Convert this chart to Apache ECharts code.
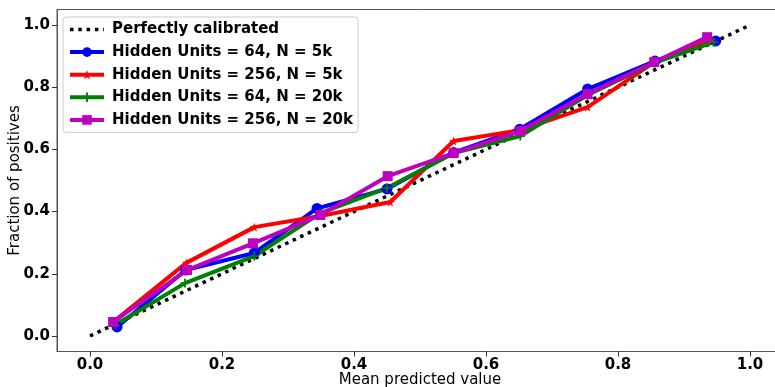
<!DOCTYPE html>
<html><head><meta charset="utf-8">
<script src="https://cdn.jsdelivr.net/npm/echarts@6/dist/echarts.min.js"></script>
<style>html,body{margin:0;padding:0;background:#fff}#c{width:775px;height:387px}</style>
</head><body><div id="c"></div>
<script>
const tickValues = [0, 0.2, 0.4, 0.6, 0.8, 1.0];
const perfectX = [0, 1];
const perfectY = [0, 1];
const s64_5kX  = [0.041, 0.145, 0.249, 0.344, 0.450, 0.551, 0.651, 0.754, 0.856, 0.948];
const s64_5kY  = [0.029, 0.212, 0.267, 0.410, 0.473, 0.590, 0.665, 0.794, 0.884, 0.949];
const s256_5kX = [0.035, 0.146, 0.249, 0.349, 0.455, 0.551, 0.652, 0.754, 0.855, 0.942];
const s256_5kY = [0.045, 0.235, 0.350, 0.386, 0.431, 0.627, 0.662, 0.736, 0.881, 0.952];
const s64_20kX = [0.038, 0.144, 0.249, 0.349, 0.450, 0.551, 0.652, 0.754, 0.855, 0.945];
const s64_20kY = [0.035, 0.170, 0.257, 0.395, 0.476, 0.588, 0.643, 0.775, 0.878, 0.945];
const s256_20kX = [0.035, 0.147, 0.247, 0.349, 0.451, 0.551, 0.652, 0.754, 0.855, 0.935];
const s256_20kY = [0.045, 0.212, 0.298, 0.389, 0.514, 0.588, 0.659, 0.778, 0.881, 0.961];
const names = ['Perfectly calibrated', 'Hidden Units = 64, N = 5k', 'Hidden Units = 256, N = 5k', 'Hidden Units = 64, N = 20k', 'Hidden Units = 256, N = 20k'];

const zip = (xs, ys) => xs.map((x, i) => [x, ys[i]]);
const STAR = 'path://M50,0 L61,35 L98,35 L68,57 L79,91 L50,70 L21,91 L32,57 L2,35 L39,35 Z';
const PLUS = 'path://M4,0 H6 V4 H10 V6 H6 V10 H4 V6 H0 V4 H4 Z';
const font = 'DejaVu Sans';
function ser(name, xs, ys, color, symbol, size) {
  return {
    name, type: 'line', data: zip(xs, ys), symbol, symbolSize: size,
    showSymbol: true, lineStyle: { color, width: 4 }, itemStyle: { color },
    emphasis: { disabled: true }, animation: false
  };
}
const chart = echarts.init(document.getElementById('c'), null, { renderer: 'canvas' });
chart.setOption({
  animation: false,
  backgroundColor: '#fff',
  grid: { left: 57, right: -8, top: 9.5, bottom: 35.5, show: true, borderColor: '#555', borderWidth: 1,
    containLabel: false, outerBoundsMode: 'none' },
  legend: {
    left: 63, top: 17, orient: 'vertical', padding: [5, 5, 5, 5],
    itemWidth: 34, itemHeight: 12, itemGap: 7.6,
    backgroundColor: 'rgba(255,255,255,0.85)', borderColor: '#ccc', borderWidth: 1, borderRadius: 3,
    textStyle: { fontFamily: font, fontWeight: 'bold', fontSize: 15, color: '#000', padding: [0, 0, 0, 3] },
    data: [
      { name: names[0], itemStyle: { color: 'rgba(0,0,0,0)', opacity: 0 }, lineStyle: { width: 3.5, type: [3.5, 4.8], color: '#000' } },
      { name: names[1], lineStyle: { width: 4 } },
      { name: names[2], lineStyle: { width: 4 } },
      { name: names[3], lineStyle: { width: 4 } },
      { name: names[4], lineStyle: { width: 4 } }
    ]
  },
  xAxis: {
    type: 'value', min: -0.05, max: 1.05,
    name: 'Mean predicted value', nameLocation: 'middle', nameGap: 21, nameMoveOverlap: false,
    nameTextStyle: { fontFamily: font, fontSize: 15, color: '#000' },
    axisLine: { show: true, onZero: false, lineStyle: { color: '#555' } },
    axisTick: { show: true, length: 5, lineStyle: { color: '#333' }, customValues: tickValues },
    axisLabel: { fontFamily: font, fontWeight: 'bold', fontSize: 15, color: '#000', margin: 6,
      customValues: tickValues, formatter: v => v.toFixed(1) },
    splitLine: { show: false }
  },
  yAxis: {
    type: 'value', min: -0.05, max: 1.05,
    name: 'Fraction of positives', nameLocation: 'middle', nameGap: 34, nameMoveOverlap: false,
    nameTextStyle: { fontFamily: font, fontSize: 15, color: '#000' },
    axisLine: { show: true, onZero: false, lineStyle: { color: '#555' } },
    axisTick: { show: true, length: 5, lineStyle: { color: '#333' }, customValues: tickValues },
    axisLabel: { fontFamily: font, fontWeight: 'bold', fontSize: 15, color: '#000', margin: 7,
      customValues: tickValues, formatter: v => v.toFixed(1) },
    splitLine: { show: false }
  },
  series: [
    { name: names[0], type: 'line', data: zip(perfectX, perfectY), symbol: 'none', showSymbol: false,
      lineStyle: { color: '#000', width: 3.5, type: [3.5, 4.8], cap: 'butt' }, itemStyle: { color: '#000' },
      emphasis: { disabled: true } },
    ser(names[1], s64_5kX, s64_5kY, '#0000ff', 'circle', 11),
    ser(names[2], s256_5kX, s256_5kY, '#ff0000', STAR, 9),
    ser(names[3], s64_20kX, s64_20kY, '#008000', PLUS, 9),
    ser(names[4], s256_20kX, s256_20kY, '#bf00bf', 'rect', 10)
  ]
});
</script></body></html>
